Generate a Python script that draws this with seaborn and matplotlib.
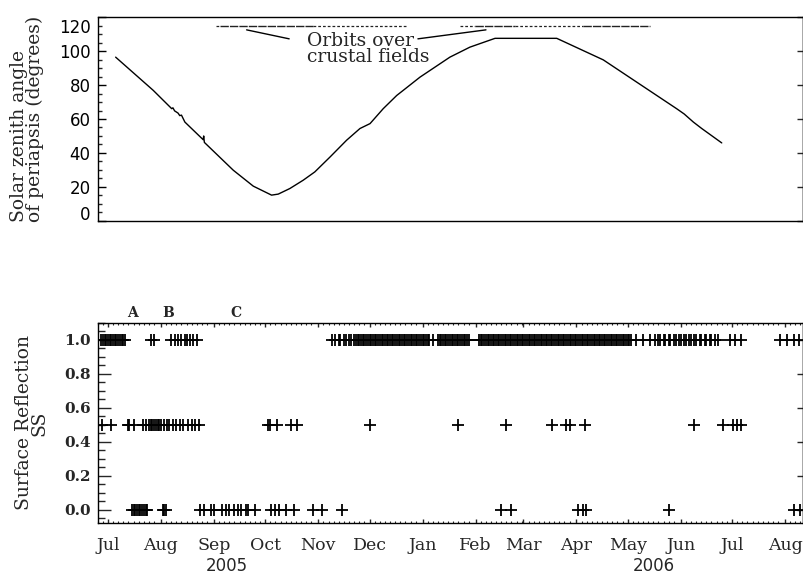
import numpy as np
import pandas as pd
import matplotlib
matplotlib.use("Agg")
import matplotlib.pyplot as plt
import matplotlib.dates as mdates
import matplotlib.transforms as mtransforms
from matplotlib.ticker import MultipleLocator, FormatStrFormatter
import seaborn as sns

# all times are days counted from 2005-07-01
start = pd.Timestamp("2005-07-01")

# solar zenith angle of periapsis
sza_days = [4.5, 26.5, 37.3, 38.0, 39.0, 41.0, 42.0, 43.0, 45.0, 55.7, 56.0, 56.4,
            73.3, 85.0, 95.7, 99.6, 106.4, 114.2, 121.0, 129.9, 139.6, 147.4, 153.3,
            161.0, 168.9, 172.7, 182.5, 200.0, 211.7, 226.4, 262.5, 289.7, 332.6,
            337.0, 342.4, 347.3, 359.0]
sza_deg = [96.5, 76.9, 66.1, 66.6, 64.8, 63.5, 62.0, 62.3, 58.2, 47.8, 50.0, 46.2,
           29.8, 20.4, 15.1, 15.7, 19.0, 23.9, 28.8, 37.6, 47.5, 54.4, 57.3,
           66.1, 73.9, 76.9, 84.7, 96.5, 102.4, 107.6, 107.6, 94.9, 66.1,
           63.0, 58.2, 54.4, 45.9]

# orbits over crustal fields (drawn at the top of panel 1)
crust_level = 115
dense_start = [65.5, 214.7, 277.8]
dense_end = [119.9, 238.0, 317.0]
sparse_start = [63.2, 119.9, 205.9, 238.0]
sparse_end = [65.5, 174.3, 214.7, 277.8]

# surface reflection SS = 1.0 / 0.5 / 0.0
ss_one_days = [-4, -3, -2, -1, 0, 1, 2, 3, 4, 5, 6, 7, 8, 9, 10,
               25, 27,
               37, 39, 41, 43, 45, 46, 48, 50, 52,
               131, 133, 135, 136, 138, 139, 141, 142, 144,
               145, 146, 147, 148, 149, 150, 151, 152, 153, 154, 155, 156, 157, 158, 159,
               160, 161, 162, 163, 164, 165, 166, 167, 168, 169, 170, 171, 172, 173, 174,
               175, 176, 177, 178, 179, 180, 181, 182, 183, 184, 185, 186, 187, 188,
               190,
               193, 194, 195, 196, 197, 198, 199, 200, 201, 202, 203, 204, 205, 206, 207,
               208, 209, 210, 211,
               217, 218, 219, 220, 221, 222, 223, 224, 225, 226, 227, 228, 229, 230, 231,
               232, 233, 234, 235, 236, 237, 238, 239, 240, 241, 242, 243, 244, 245, 246,
               247, 248, 249, 250, 251, 252, 253, 254, 255, 256, 257, 258, 259, 260, 261,
               262, 263, 264, 265, 266, 267, 268, 269, 270, 271, 272, 273, 274, 275, 276,
               277, 278, 279, 280, 281, 282, 283, 284, 285, 286, 287, 288, 289, 290, 291,
               292, 293, 294, 295, 296, 297, 298, 299, 300, 301, 302, 303, 304, 305, 306,
               309, 313, 317, 320,
               322, 323, 325, 326, 328, 329, 331, 332, 334, 335, 337, 338, 340, 341, 343,
               344, 346, 347, 349, 350, 352, 353, 355, 357,
               364, 367, 370,
               393, 397, 401, 404]
ss_half_days = [-3.5, 1.5, 11.5, 12.5, 15.5, 20.5, 22.5, 24, 25, 26, 27, 28, 29, 30, 31,
                32.5, 34.5, 36, 38, 40, 42, 44, 47, 49, 51, 53,
                93.5, 95, 99, 107, 110.5, 153.5,
                204.5, 233, 259.5, 268, 270.5, 279, 342.5, 359.5, 365.5, 368, 370.5]
ss_zero_days = [14, 15, 16, 17, 18, 19, 20, 21, 22, 23, 32, 33, 34,
                54, 56, 60, 62, 67, 69, 71, 74, 76, 78, 81, 82, 86,
                95.5, 97.5, 100, 104, 109, 120, 125, 137,
                230, 235.5, 275, 278, 279.5, 328.3, 401, 405]

event_labels = ["A", "B", "C"]
event_days = [14.6, 35.1, 74.9]
year_labels = ["2005", "2006"]
year_days = [69.4, 319.0]


def to_date(days):
    return start + pd.to_timedelta(np.asarray(days, dtype=float), unit="D")


def d2n(days):
    return mdates.date2num(to_date(days))


sns.set_style("ticks")
plt.rcParams["font.family"] = ["DejaVu Serif"]
plt.rcParams["xtick.direction"] = "in"
plt.rcParams["ytick.direction"] = "in"
plt.rcParams["axes.linewidth"] = 1.0

fig = plt.figure(figsize=(8.04, 5.81), dpi=100)
ax1 = fig.add_axes([0.1215, 0.6201, 0.8772, 0.3501])
ax2 = fig.add_axes([0.1215, 0.0993, 0.8772, 0.3453])

xmin = start + pd.Timedelta(days=-6.0)
xmax = start + pd.Timedelta(days=406.5)

# ---- top panel: solar zenith angle
sza = pd.DataFrame({"date": to_date(sza_days), "sza": sza_deg})
sns.lineplot(data=sza, x="date", y="sza", ax=ax1, color="k", lw=1.0,
             sort=False, estimator=None)
ax1.hlines([crust_level] * len(dense_start), d2n(dense_start), d2n(dense_end),
           colors="#222222", lw=1.0, linestyles=[(0, (6, 0.8))])
ax1.hlines([crust_level] * len(sparse_start), d2n(sparse_start), d2n(sparse_end),
           colors="#222222", lw=0.9, linestyles=[(0, (2.2, 1.6))])
ax1.annotate("", xy=(d2n([81.1])[0], 112.6), xytext=(d2n([106.0])[0], 107.3),
             arrowprops=dict(arrowstyle="-", color="k", lw=1, shrinkA=0, shrinkB=0))
ax1.annotate("", xy=(d2n([221.1])[0], 112.6), xytext=(d2n([181.3])[0], 107.3),
             arrowprops=dict(arrowstyle="-", color="k", lw=1, shrinkA=0, shrinkB=0))
ax1.text(d2n([116.2])[0], 101.3, "Orbits over\ncrustal fields", ha="left", va="center",
         fontsize=13.5, linespacing=0.9)

ax1.set_xlim(xmin, xmax)
ax1.set_ylim(0, 120)
ax1.set_yticks([0, 20, 40, 60, 80, 100, 120])
ax1.yaxis.set_minor_locator(MultipleLocator(5))
ax1.tick_params(axis="x", which="both", bottom=False, top=False, labelbottom=False)
ax1.tick_params(axis="y", which="major", direction="in", length=5.8, width=1,
                right=False, pad=5, labelsize=12, colors="k")
ax1.tick_params(axis="y", which="minor", direction="in", length=2.9, width=1, right=False)
for lab in ax1.get_yticklabels():
    lab.set_fontfamily("DejaVu Sans")
ax1.set_xlabel("")
ax1.set_ylabel("Solar zenith angle\nof periapsis (degrees)", fontsize=13.5,
               linespacing=0.85, multialignment="left")
ax1.yaxis.set_label_coords(-0.076, 0.5)
sec1 = ax1.secondary_yaxis("right")
sec1.set_yticks([0, 20, 40, 60, 80, 100, 120])
sec1.tick_params(axis="y", direction="in", length=4.3, width=1, labelright=False)
for sp in ax1.spines.values():
    sp.set_visible(True)
    sp.set_color("k")

ticks1 = ax1.yaxis.get_major_ticks()
ticks1[0].label1.set_transform(ticks1[0].label1.get_transform()
                               + mtransforms.ScaledTranslation(0, 0.074, fig.dpi_scale_trans))
ticks1[-1].label1.set_transform(ticks1[-1].label1.get_transform()
                                + mtransforms.ScaledTranslation(0, -0.084, fig.dpi_scale_trans))

# ---- bottom panel: surface reflection
ss = pd.DataFrame({
    "date": to_date(ss_one_days + ss_half_days + ss_zero_days),
    "ss": [1.0] * len(ss_one_days) + [0.5] * len(ss_half_days) + [0.0] * len(ss_zero_days),
})
sns.scatterplot(data=ss, x="date", y="ss", ax=ax2, marker="+", s=64, color="k",
                linewidth=1.3)

ax2.set_xlim(xmin, xmax)
ax2.set_ylim(-0.08, 1.1)
ax2.set_yticks([0.0, 0.2, 0.4, 0.6, 0.8, 1.0])
ax2.yaxis.set_major_formatter(FormatStrFormatter("%.1f"))
ax2.yaxis.set_minor_locator(MultipleLocator(0.05))
ax2.tick_params(axis="y", which="major", direction="in", length=9.4, width=1,
                right=False, pad=5, labelsize=11)
ax2.tick_params(axis="y", which="minor", direction="in", length=5, width=1, right=False)
for lab in ax2.get_yticklabels():
    lab.set_fontweight("bold")
sec2 = ax2.secondary_yaxis("right")
sec2.set_yticks([0.0, 0.2, 0.4, 0.6, 0.8, 1.0])
sec2.tick_params(axis="y", direction="in", length=4.3, width=1, labelright=False)

ax2.xaxis.set_major_locator(mdates.MonthLocator())
ax2.xaxis.set_major_formatter(mdates.DateFormatter("%b"))
ax2.xaxis.set_minor_locator(mdates.DayLocator(bymonthday=[4, 7, 10, 13, 16, 19, 22, 25, 28]))
ax2.tick_params(axis="x", which="major", direction="in", length=2.6, width=1,
                top=True, bottom=True, pad=10, labelsize=12.5)
ax2.tick_params(axis="x", which="minor", direction="in", length=1.5, width=0.8,
                top=True, bottom=True)
ax2.set_xlabel("")
ax2.set_ylabel("Surface Reflection\nSS", fontsize=13.5, linespacing=0.8,
               multialignment="center")
ax2.yaxis.set_label_coords(-0.07, 0.5)
for sp in ax2.spines.values():
    sp.set_visible(True)
    sp.set_color("k")

blend = mtransforms.blended_transform_factory(ax2.transData, ax2.transAxes)
for lab, x in zip(event_labels, d2n(event_days)):
    ax2.text(x, 1.048, lab, transform=blend, ha="center", va="center",
             fontsize=10, fontweight="bold")
for lab, x in zip(year_labels, d2n(year_days)):
    ax2.text(x, -0.213, lab, transform=blend, ha="center", va="center",
             fontsize=12, family="DejaVu Sans")

fig.savefig("out.png", dpi=100)
